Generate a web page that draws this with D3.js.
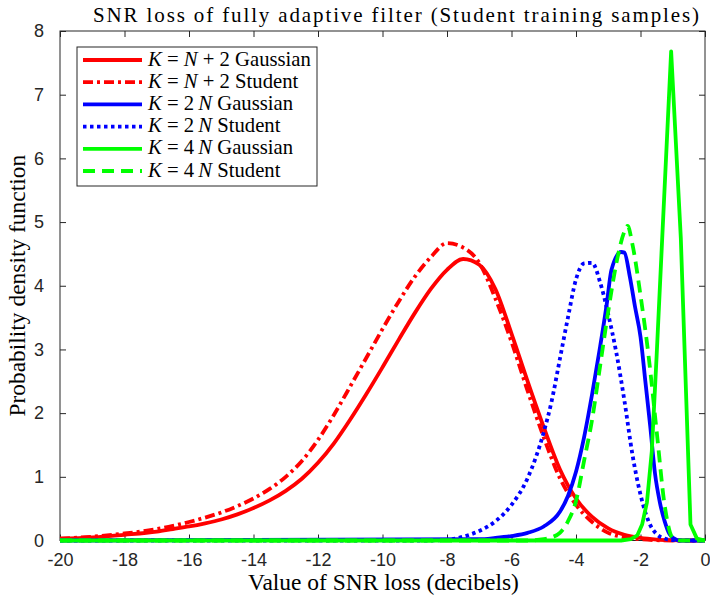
<!DOCTYPE html>
<html><head><meta charset="utf-8">
<script src="https://cdn.jsdelivr.net/npm/d3@7"></script>
<style>body{margin:0;background:#fff} svg{display:block}</style>
</head><body><svg id="c" width="710" height="606"></svg>
<script>
// ---------------- data ----------------
const xTicks = [-20,-18,-16,-14,-12,-10,-8,-6,-4,-2,0];
const xTickLabels = ["-20","-18","-16","-14","-12","-10","-8","-6","-4","-2","0"];
const yTicks = [0,1,2,3,4,5,6,7,8];
const yTickLabels = ["0","1","2","3","4","5","6","7","8"];

const titleText = "SNR loss of fully adaptive filter (Student training samples)";
const xLabelText = "Value of SNR loss (decibels)";
const yLabelText = "Probability density function";

// K = N+2, Gaussian training samples
const redGaussX = [-20,-19,-18,-17,-16.5,-16,-15.5,-15,-14.5,-14,-13.5,-13,-12.5,-12,-11.5,-11,-10.5,-10,-9.5,-9,-8.5,-8,-7.5,-7,-6.5,-6,-5.5,-5,-4.5,-4,-3.5,-3,-2.5,-2,-1.5,-1,-0.5,0];
const redGaussY = [0.03,0.05,0.09,0.14,0.18,0.22,0.27,0.33,0.41,0.51,0.63,0.78,0.97,1.22,1.53,1.9,2.3,2.72,3.15,3.57,3.95,4.25,4.42,4.33,3.95,3.25,2.5,1.78,1.12,0.66,0.37,0.19,0.09,0.04,0.015,0.005,0,0];
// K = N+2, Student training samples
const redStudX = [-20,-19,-18,-17.5,-17,-16.5,-16,-15.5,-15,-14.5,-14,-13.5,-13,-12.5,-12,-11.5,-11,-10.5,-10,-9.5,-9,-8.5,-8,-7.5,-7,-6.5,-6,-5.5,-5,-4.5,-4,-3.5,-3,-2.5,-2,-1.5,-1,-0.5,0];
const redStudY = [0.03,0.06,0.11,0.14,0.18,0.23,0.29,0.36,0.44,0.54,0.66,0.81,1.0,1.25,1.58,1.98,2.42,2.87,3.32,3.75,4.14,4.45,4.67,4.6,4.36,3.8,3.12,2.35,1.62,0.98,0.56,0.29,0.12,0.05,0.02,0.005,0,0,0];
// K = 2N, Gaussian
const blueGaussX = [-20,-7,-6.5,-6,-5.5,-5,-4.5,-4.25,-4,-3.75,-3.5,-3.25,-3.05,-2.9,-2.6,-2.5,-2.33,-2.17,-2,-1.85,-1.7,-1.55,-1.4,-1.25,-1.1,-0.95,-0.8,0];
const blueGaussY = [0,0.02,0.04,0.07,0.12,0.22,0.45,0.7,1.08,1.62,2.3,3.05,3.7,4.25,4.53,4.52,4.14,3.67,3.2,2.5,1.8,1.05,0.6,0.3,0.1,0.03,0,0];
// K = 2N, Student
const blueStudX = [-20,-8.5,-8,-7.5,-7,-6.5,-6,-5.5,-5,-4.75,-4.5,-4.25,-4,-3.75,-3.5,-3.25,-3,-2.75,-2.5,-2.25,-2,-1.75,-1.5,-1.25,-1,-0.5,0];
const blueStudY = [0,0,0.01,0.06,0.15,0.3,0.56,0.98,1.7,2.2,2.85,3.5,4.1,4.35,4.36,4.05,3.55,2.95,2.2,1.35,0.72,0.3,0.1,0.03,0.005,0,0];
// K = 4N, Gaussian
const greenGaussX = [-20,-2.6,-2.3,-2.1,-1.95,-1.8,-1.65,-1.5,-1.35,-1.05,-0.75,-0.45,-0.25,0];
const greenGaussY = [0,0,0.02,0.08,0.25,0.6,1.4,2.9,4.5,7.68,4.75,0.25,0.03,0];
// K = 4N, Student
const greenStudX = [-20,-5.5,-5,-4.75,-4.5,-4.25,-4,-3.75,-3.5,-3.25,-3,-2.75,-2.5,-2.4,-2.25,-2,-1.75,-1.5,-1.25,-1,-0.75,0];
const greenStudY = [0,0,0.02,0.05,0.12,0.3,0.62,1.25,1.9,2.75,3.6,4.35,4.85,4.94,4.65,3.85,2.9,1.72,0.55,0.04,0,0];

const seriesColors = ["#ff0000","#ff0000","#0000ff","#0000ff","#00ff00","#00ff00"];
const seriesDash = ["none","10,4,3,4","none","3.5,3.5","none","12,7"];
const legendParts = [
  [["K",1],[" = ",0],["N",1],[" + 2 Gaussian",0]],
  [["K",1],[" = ",0],["N",1],[" + 2 Student",0]],
  [["K",1],[" = 2\u2009",0],["N",1],[" Gaussian",0]],
  [["K",1],[" = 2\u2009",0],["N",1],[" Student",0]],
  [["K",1],[" = 4\u2009",0],["N",1],[" Gaussian",0]],
  [["K",1],[" = 4\u2009",0],["N",1],[" Student",0]]
];

// ---------------- drawing ----------------
const svg = d3.select("#c");
const L = 60, R = 705, T = 31, B = 540.5;
const x = d3.scaleLinear().domain([-20,0]).range([L,R]);
const y = d3.scaleLinear().domain([0,8]).range([B,T]);
const axisColor = "#262626";
const serif = "'Liberation Serif','Times New Roman',serif";
const sans = "'Liberation Sans',Arial,Helvetica,sans-serif";

svg.append("rect").attr("width",710).attr("height",606).attr("fill","#fff");

// axes
const gx = svg.append("g").attr("transform",`translate(0,${B})`)
  .call(d3.axisBottom(x).tickValues(xTicks).tickSizeInner(-6).tickSizeOuter(0).tickPadding(13)
    .tickFormat((d,i)=>xTickLabels[i]));
const gxt = svg.append("g").attr("transform",`translate(0,${T})`)
  .call(d3.axisTop(x).tickValues(xTicks).tickSizeInner(-6).tickSizeOuter(0).tickFormat(""));
const gy = svg.append("g").attr("transform",`translate(${L},0)`)
  .call(d3.axisLeft(y).tickValues(yTicks).tickSizeInner(-6).tickSizeOuter(0).tickPadding(16)
    .tickFormat((d,i)=>yTickLabels[i]));
const gyr = svg.append("g").attr("transform",`translate(${R},0)`)
  .call(d3.axisRight(y).tickValues(yTicks).tickSizeInner(-6).tickSizeOuter(0).tickFormat(""));
[gx,gxt,gy,gyr].forEach(g=>{
  g.select(".domain").remove();
  g.selectAll("line").attr("stroke",axisColor).attr("stroke-width",1);
  g.selectAll("text").attr("fill",axisColor).attr("font-family",sans).attr("font-size",18);
});
gx.selectAll("text").attr("dy","0.71em");
svg.append("rect").attr("x",L).attr("y",T).attr("width",R-L).attr("height",B-T)
  .attr("fill","none").attr("stroke",axisColor).attr("stroke-width",1);

// series
const allX = [redGaussX,redStudX,blueGaussX,blueStudX,greenGaussX,greenStudX];
const allY = [redGaussY,redStudY,blueGaussY,blueStudY,greenGaussY,greenStudY];
const curves = [d3.curveMonotoneX,d3.curveMonotoneX,d3.curveMonotoneX,d3.curveMonotoneX,d3.curveLinear,d3.curveMonotoneX];
allX.forEach((xs,i)=>{
  const pts = xs.map((v,j)=>[v,allY[i][j]]);
  svg.append("path").datum(pts)
    .attr("d",d3.line().x(d=>x(d[0])).y(d=>y(d[1])).curve(curves[i]))
    .attr("fill","none").attr("stroke",seriesColors[i]).attr("stroke-width",3.8)
    .attr("stroke-dasharray",seriesDash[i]).attr("stroke-linejoin","round");
});

function fitWidth(t, target){
  const w = t.node().getComputedTextLength();
  const fs = parseFloat(t.attr("font-size"));
  const nfs = fs*target/w;
  t.attr("font-size", nfs);
  return nfs;
}

// title & labels
svg.append("text").attr("x",396).attr("y",22).attr("text-anchor","middle")
  .attr("font-family",serif).attr("font-size",21).attr("fill","#000")
  .attr("textLength",606).attr("lengthAdjust","spacing").text(titleText);
const xl = svg.append("text").attr("x",383.5).attr("y",590).attr("text-anchor","middle")
  .attr("font-family",serif).attr("font-size",18).attr("fill","#000").text(xLabelText);
const lfs = fitWidth(xl,271);
svg.append("text").attr("transform",`translate(25,${(T+B)/2}) rotate(-90)`).attr("text-anchor","middle")
  .attr("font-family",serif).attr("font-size",lfs).attr("fill","#000").text(yLabelText);

// legend
const lg = svg.append("g");
lg.append("rect").attr("x",77).attr("y",47).attr("width",240).attr("height",139)
  .attr("fill","#fff").attr("stroke",axisColor).attr("stroke-width",1);
const legTexts = [];
legendParts.forEach((parts,i)=>{
  const cy = 60 + i*22.2;
  lg.append("line").attr("x1",83).attr("x2",142).attr("y1",cy).attr("y2",cy)
    .attr("stroke",seriesColors[i]).attr("stroke-width",3.8).attr("stroke-dasharray",seriesDash[i]);
  const t = lg.append("text").attr("x",148).attr("y",cy+5.5).attr("font-family",serif)
    .attr("font-size",16).attr("fill","#000");
  parts.forEach(p=>{
    t.append("tspan").attr("font-style",p[1]?"italic":"normal").text(p[0]);
  });
  legTexts.push(t);
});
const legFs = fitWidth(legTexts[0],163);
legTexts.forEach(t=>t.attr("font-size",legFs));
</script>
</body></html>
